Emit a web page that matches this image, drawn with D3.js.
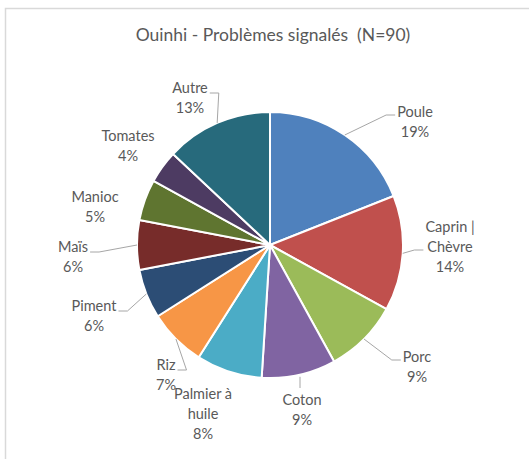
<!DOCTYPE html>
<html>
<head>
<meta charset="utf-8">
<script src="https://cdn.jsdelivr.net/npm/d3@7"></script>
<style>
  html, body { margin: 0; padding: 0; background: #fff; }
  svg { display: block; }
  text { font-family: Lato, "Open Sans", sans-serif; fill: #595959; white-space: pre; }
</style>
</head>
<body>
<svg id="chart" width="529" height="459"></svg>
<script>
// Problems reported in Ouinhi (share of responses, %)
const categories = ["Poule", "Caprin | Chèvre", "Porc", "Coton", "Palmier à huile", "Riz", "Piment", "Maïs", "Manioc", "Tomates", "Autre"];
const values = [19, 14, 9, 9, 8, 7, 6, 6, 5, 4, 13];
const labelLines = [["Poule"], ["Caprin |", "Chèvre"], ["Porc"], ["Coton"], ["Palmier à", "huile"], ["Riz"], ["Piment"], ["Maïs"], ["Manioc"], ["Tomates"], ["Autre"]];
const colors = ["#4F81BD", "#C0504D", "#9BBB59", "#8064A2", "#4BACC6", "#F79646", "#2C4D75", "#772C2A", "#5F7530", "#4D3B62", "#276A7C"];
const title = "Ouinhi - Problèmes signalés  (N=90)";

// Label placement: centre of the text block relative to the pie centre,
// and which side the leader line leaves from (null = no leader).
const labelLayout = [
  { dx: 145, dy: -123, leader: "left" },
  { dx: 180, dy: 2, leader: "left" },
  { dx: 147, dy: 122, leader: "left" },
  { dx: 32, dy: 165, leader: "top" },
  { dx: -67, dy: 169, leader: null },
  { dx: -104, dy: 130, leader: "right" },
  { dx: -176, dy: 71, leader: "right" },
  { dx: -197, dy: 12, leader: "right" },
  { dx: -175, dy: -38, leader: null },
  { dx: -142, dy: -99, leader: null },
  { dx: -80, dy: -147, leader: "right" }
];

const width = 529, height = 459;
const cx = 270, cy = 245, radius = 133;
const lineH = 20, fontSize = 14.5;

const svg = d3.select("#chart");

// chart-area frame
svg.append("rect")
  .attr("x", 5.5).attr("y", 8.5)
  .attr("width", width + 10).attr("height", height + 10)
  .attr("fill", "none").attr("stroke", "#d9d9d9").attr("stroke-width", 1.5);

svg.append("text")
  .attr("x", cx + 3).attr("y", 41)
  .attr("text-anchor", "middle")
  .attr("font-size", 17.5)
  .attr("xml:space", "preserve")
  .text(title);

const data = categories.map((c, i) => ({ name: c, value: values[i], color: colors[i], lines: labelLines[i], layout: labelLayout[i] }));

const pie = d3.pie().value(d => d.value).sort(null);
const arc = d3.arc().innerRadius(0).outerRadius(radius);
const arcs = pie(data);

const g = svg.append("g").attr("transform", `translate(${cx},${cy})`);

g.selectAll("path.slice")
  .data(arcs)
  .join("path")
  .attr("class", "slice")
  .attr("d", arc)
  .attr("fill", d => d.data.color)
  .attr("stroke", "#fff")
  .attr("stroke-width", 2)
  .attr("stroke-linejoin", "round");

// data labels
const labels = g.selectAll("g.label")
  .data(arcs)
  .join("g")
  .attr("class", "label")
  .attr("transform", d => `translate(${d.data.layout.dx},${d.data.layout.dy})`);

labels.each(function(d) {
  const el = d3.select(this);
  const lines = d.data.lines.concat([d.data.value + "%"]);
  const top = -((lines.length - 1) * lineH) / 2;
  const t = el.append("text")
    .attr("text-anchor", "middle")
    .attr("font-size", fontSize);
  lines.forEach((s, k) => {
    t.append("tspan")
      .attr("x", 0)
      .attr("y", top + k * lineH)
      .attr("dy", "0.35em")
      .text(s);
  });
  d.textTop = top;
  d.lineWidths = lines.map((s, k) => t.selectAll("tspan").nodes()[k].getComputedTextLength());
});

// leader lines from the label to the slice edge at its mid angle
const leaders = g.append("g").attr("class", "leaders");
arcs.forEach(d => {
  const L = d.data.layout;
  if (!L.leader) return;
  const mid = (d.startAngle + d.endAngle) / 2;
  const ax = Math.sin(mid) * radius, ay = -Math.cos(mid) * radius;
  let pts;
  const nLines = d.data.lines.length + 1;
  const firstW = d.lineWidths[0];
  if (L.leader === "top") {
    const sx = L.dx - 2, sy = L.dy + d.textTop - 12;
    pts = [[sx, sy], [sx, ay + 2]];
  } else {
    const dir = L.leader === "left" ? -1 : 1;
    let sy, w;
    if (L.leader === "left") {
      sy = L.dy + d.textTop + ((nLines - 1) * lineH) / 2 - (nLines > 2 ? 0 : lineH / 2) + 3;
      w = nLines > 2 ? Math.max(...d.lineWidths) : firstW;
    } else {
      sy = L.dy + d.textTop + 5;
      w = firstW;
    }
    const sx = L.dx + dir * (w / 2 + 2);
    const ex = sx + dir * 9;
    pts = [[sx, sy], [ex, sy], [ax, ay]];
  }
  leaders.append("path")
    .attr("d", d3.line()(pts))
    .attr("fill", "none")
    .attr("stroke", "#a6a6a6")
    .attr("stroke-width", 1);
});
</script>
</body>
</html>
